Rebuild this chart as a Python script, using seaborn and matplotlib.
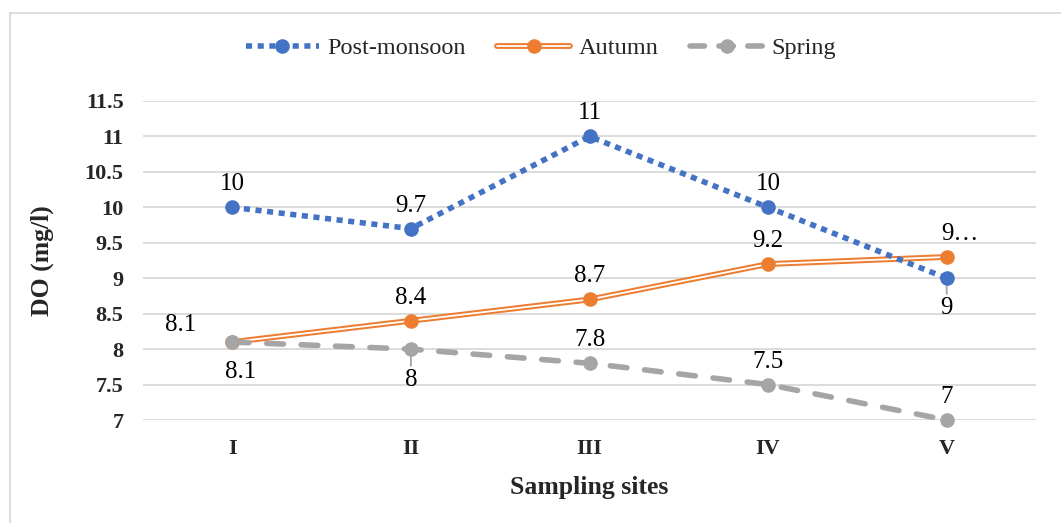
import matplotlib
matplotlib.use("Agg")
import matplotlib.pyplot as plt
import seaborn as sns
import numpy as np
from matplotlib.lines import Line2D
from matplotlib.legend_handler import HandlerTuple

sites = ["I", "II", "III", "IV", "V"]
post_monsoon = [10, 9.7, 11, 10, 9]
autumn = [8.1, 8.4, 8.7, 9.2, 9.3]
spring = [8.1, 8, 7.8, 7.5, 7]
post_labels = ["10", "9.7", "11", "10", "9"]
autumn_labels = ["8.1", "8.4", "8.7", "9.2", "9…"]
spring_labels = ["8.1", "8", "7.8", "7.5", "7"]

sns.set_theme(style="white")
plt.rcParams['font.family'] = ['Liberation Serif', 'DejaVu Serif']

BLUE = "#4472C4"
ORANGE = "#ED7D31"
GRAY = "#A5A5A5"
MS = 10.5

fig = plt.figure(figsize=(10.61, 5.23), dpi=100)
ax = fig.add_axes([143/1061, 1-420/523, (1036-143)/1061, (420-101)/523])

x = np.arange(len(sites))

# Autumn: double orange line
sns.lineplot(x=x, y=autumn, ax=ax, color=ORANGE, linewidth=4.2, zorder=3)
sns.lineplot(x=x, y=autumn, ax=ax, color="white", linewidth=1.3, zorder=3.1)
sns.lineplot(x=x, y=autumn, ax=ax, color=ORANGE, linestyle="none", marker="o",
             markersize=MS, markeredgewidth=0, zorder=3.2)
# Spring: dashed gray
sns.lineplot(x=x, y=spring, ax=ax, color=GRAY, linewidth=4, marker="o",
             markersize=MS, markeredgewidth=0, zorder=4)
ax.lines[-1].set_dashes([3.0, 3.2])
ax.lines[-1].set_dash_capstyle("round")
# Post-monsoon: dotted blue
sns.lineplot(x=x, y=post_monsoon, ax=ax, color=BLUE, linewidth=4, marker="o",
             markersize=MS, markeredgewidth=0, zorder=5)
ax.lines[-1].set_dashes([1.1, 1.0])
for ln in ax.lines:
    ln.set_clip_on(False)

ax.set_xlim(-0.5, 4.5)
ax.set_ylim(7, 11.5)
yt = np.arange(7, 11.51, 0.5)
ax.set_yticks(yt)
ax.set_yticklabels([f"{v:g}" for v in yt], fontsize=16, fontweight="bold")
ax.set_xticks(x)
ax.set_xticklabels(sites, fontsize=16, fontweight="bold")
ax.tick_params(axis="y", length=0, pad=14)
ax.tick_params(axis="x", length=0, pad=14)
ax.grid(axis="y", color="#D9D9D9", linewidth=1.3)
ax.set_axisbelow(True)
for s in ax.spines.values():
    s.set_visible(False)
ax.set_xlabel("Sampling sites", fontsize=18.5, fontweight="bold", labelpad=12)
ax.set_ylabel("DO (mg/l)", fontsize=18.5, fontweight="bold", labelpad=22)

fs = 18
def lab(xi, yi, txt, dx, dy, leader=False):
    kw = {}
    if leader:
        kw["arrowprops"] = dict(arrowstyle="-", color="#A5A5A5", lw=1.3,
                                shrinkA=0, shrinkB=2)
    ax.annotate(txt, (xi, yi), xytext=(dx, dy), textcoords="offset pixels",
                ha="center", va="center", fontsize=fs, color="#000000",
                zorder=4.5, **kw)

for i, (v, t) in enumerate(zip(post_monsoon, post_labels)):
    if i == 4:
        lab(i, v, t, 0, -30, leader=True)
    else:
        lab(i, v, t, 0, 23)
for i, (v, t) in enumerate(zip(autumn, autumn_labels)):
    if i == 0:
        lab(i, v, t, -52, 17)
    elif i == 4:
        lab(i, v, t, 13, 23)
    else:
        lab(i, v, t, 0, 23)
for i, (v, t) in enumerate(zip(spring, spring_labels)):
    if i == 0:
        lab(i, v, t, 8, -30)
    elif i == 1:
        lab(i, v, t, 0, -31, leader=True)
    else:
        lab(i, v, t, 0, 23)

h_post = Line2D([], [], color=BLUE, linewidth=4, dashes=[1.1, 1.0], marker="o",
                markersize=MS, markeredgewidth=0)
h_aut = (Line2D([], [], color=ORANGE, linewidth=4.2),
         Line2D([], [], color="white", linewidth=1.3),
         Line2D([], [], color=ORANGE, linestyle="none", marker="o",
                markersize=MS, markeredgewidth=0))
h_spr = Line2D([], [], color=GRAY, linewidth=4, dashes=[2.6, 2.6], marker="o",
               markersize=MS, markeredgewidth=0, dash_capstyle="round")
leg = fig.legend([h_post, h_aut, h_spr], ["Post-monsoon", "Autumn", "Spring"],
                 loc="center", bbox_to_anchor=(541/1061, 1-48/523), ncol=3,
                 frameon=False, fontsize=17.5, handlelength=3.0,
                 columnspacing=1.3, handletextpad=0.35,
                 handler_map={tuple: HandlerTuple(ndivide=1, pad=0)})

fig.add_artist(Line2D([10/1061, 1.0], [1-13/523, 1-13/523], color="#D9D9D9",
                      linewidth=1.3, transform=fig.transFigure))
fig.add_artist(Line2D([10/1061, 10/1061], [0, 1-13/523], color="#D9D9D9",
                      linewidth=1.3, transform=fig.transFigure))

fig.savefig("out.png", dpi=100)
